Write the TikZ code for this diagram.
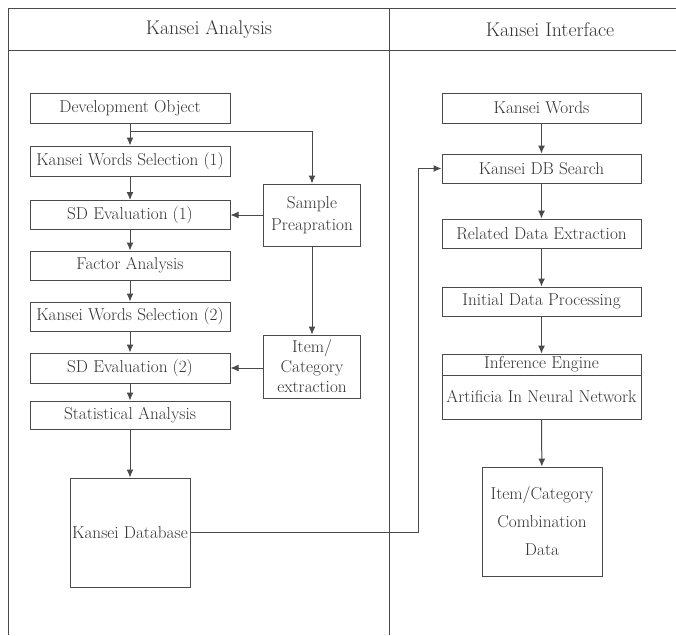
\documentclass[tikz,border=0pt]{standalone}
\usetikzlibrary{arrows.meta}
\definecolor{linec}{HTML}{4A4A4A}
\definecolor{txtc}{HTML}{333333}
\tikzset{
  box/.style={draw=linec, line width=1pt, fill=white, text=txtc, inner sep=0pt, align=center,
    font=\fontsize{17.2}{21}\selectfont},
  arr/.style={draw=linec, line width=1pt, -{Latex[length=8pt,width=7pt]}},
  frame/.style={draw=linec, line width=1pt},
  hdr/.style={text=txtc, font=\fontsize{19.8}{23}\selectfont, inner sep=0pt}
}
\begin{document}
\begin{tikzpicture}[x=1pt,y=-1pt]
\useasboundingbox (0,0) rectangle (676,635);
% frame
\draw[frame] (676,8) -- (8,8) -- (8,635);
\draw[frame] (8,50) -- (676,50);
\draw[frame] (389,8) -- (389,635);
\node[hdr] (h1) at (209,30) {Kansei Analysis};
\node[hdr] (h2) at (550,30) {Kansei Interface};
% left column
\node[box, minimum width=200pt, minimum height=30pt] (dev) at (130,108) {Development Object};
\node[box, minimum width=200pt, minimum height=30pt] (kws1) at (130,161) {Kansei Words Selection (1)};
\node[box, minimum width=200pt, minimum height=29pt] (sd1) at (130,215) {SD Evaluation (1)};
\node[box, minimum width=200pt, minimum height=29pt] (fa) at (130,265.5) {Factor Analysis};
\node[box, minimum width=200pt, minimum height=29pt] (kws2) at (130,316.5) {Kansei Words Selection (2)};
\node[box, minimum width=200pt, minimum height=30pt] (sd2) at (130,368) {SD Evaluation (2)};
\node[box, minimum width=200pt, minimum height=28pt] (sa) at (130,415) {Statistical Analysis};
\node[box, minimum width=120pt, minimum height=109pt] (kdb) at (130,532.5) {Kansei Database};
\node[box, minimum width=97pt, minimum height=62pt, font=\fontsize{17.2}{22}\selectfont] (sample) at (312,215) {Sample\\Preapration};
\node[box, minimum width=97pt, minimum height=63pt, font=\fontsize{17.2}{20}\selectfont] (item) at (312,366.5) {Item/\\Category\\extraction};
% right column
\node[box, minimum width=199pt, minimum height=30pt] (kw) at (541.5,108) {Kansei Words};
\node[box, minimum width=199pt, minimum height=29pt] (dbs) at (541.5,168.5) {Kansei DB Search};
\node[box, minimum width=199pt, minimum height=29pt] (rde) at (541.5,233.5) {Related Data Extraction};
\node[box, minimum width=199pt, minimum height=29pt] (idp) at (541.5,301.5) {Initial Data Processing};
\node[box, minimum width=199pt, minimum height=65pt] (ie) at (541.5,386.5) {};
\draw[frame] (ie.west |- 0,375) -- (ie.east |- 0,375);
\node[text=txtc, font=\fontsize{17.2}{21}\selectfont, inner sep=0pt] (iet) at (541.5,364.5) {Inference Engine};
\node[text=txtc, font=\fontsize{17.2}{21}\selectfont, inner sep=0pt] (ann) at (541.5,396) {Artificia In Neural Network};
\node[box, minimum width=120pt, minimum height=109pt, font=\fontsize{17.2}{28}\selectfont] (icd) at (542,521.5) {Item/Category\\Combination\\Data};
% connectors left
\draw[arr] (dev) -- (kws1);
\coordinate (br) at (130,131);
\draw[arr] (br) -| (sample.north);
\draw[arr] (kws1) -- (sd1);
\draw[arr] (sample.west) -- (sd1.east);
\draw[arr] (sd1) -- (fa);
\draw[arr] (fa) -- (kws2);
\draw[arr] (kws2) -- (sd2);
\draw[arr] (sample.south) -- (item.north);
\draw[arr] (item.west |- sd2.east) -- (sd2.east);
\draw[arr] (sd2) -- (sa);
\draw[arr] (sa) -- (kdb);
\draw[arr] (kdb.east) -- ++(228,0) |- (dbs.west);
% connectors right
\draw[arr] (kw) -- (dbs);
\draw[arr] (dbs) -- (rde);
\draw[arr] (rde) -- (idp);
\draw[arr] (idp) -- (ie);
\draw[arr] (ie) -- (icd);
\end{tikzpicture}
\end{document}
